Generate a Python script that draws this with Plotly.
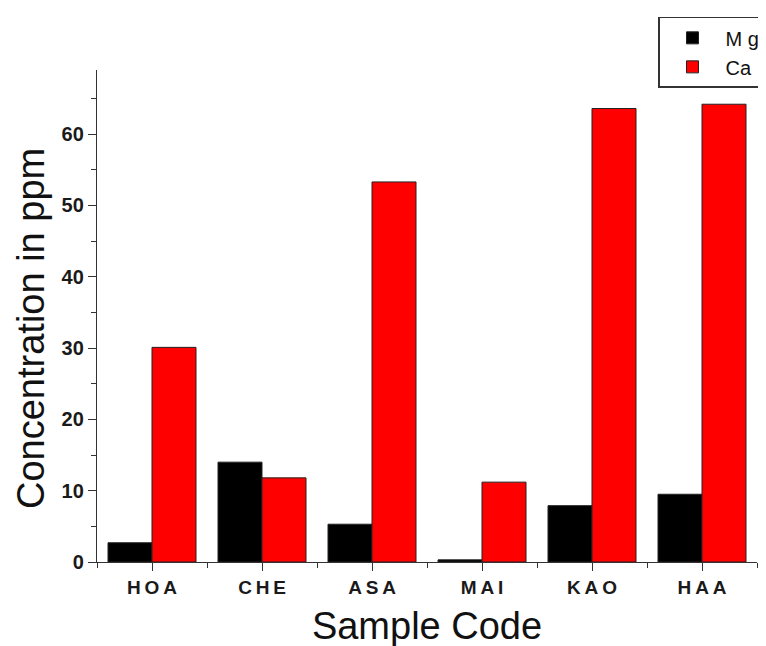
import plotly.graph_objects as go

categories = ["HOA", "CHE", "ASA", "MAI", "KAO", "HAA"]
mg_values = [2.7, 14.0, 5.3, 0.3, 7.9, 9.5]
ca_values = [30.1, 11.8, 53.3, 11.2, 63.6, 64.2]
y_tick_values = [0, 10, 20, 30, 40, 50, 60]

FONT = "Arial, 'Liberation Sans', sans-serif"
spaced = ["<b>" + "\u2009".join(list(c)) + "</b>" for c in categories]
y_tick_text = ["<b>%d</b>" % v for v in y_tick_values]

fig = go.Figure()
fig.add_trace(go.Bar(name="M g", x=categories, y=mg_values,
                     marker=dict(color="#000000", line=dict(color="#222222", width=1))))
fig.add_trace(go.Bar(name="Ca", x=categories, y=ca_values,
                     marker=dict(color="#ff0000", line=dict(color="#222222", width=1))))
# helper trace for boundary ticks on overlay axis
fig.add_trace(go.Scatter(x=categories, y=[None] * len(categories), xaxis="x2",
                         showlegend=False, hoverinfo="skip"))

fig.update_layout(
    width=766, height=646,
    margin=dict(l=89, r=17, t=62, b=92, autoexpand=False),
    paper_bgcolor="white", plot_bgcolor="white",
    barmode="group", bargap=0.2, bargroupgap=0,
    font=dict(family=FONT, color="#111111"),
    xaxis=dict(
        type="category", range=[-0.5, 5.5], automargin=False,
        tickmode="array", tickvals=categories, ticktext=spaced,
        tickfont=dict(size=19, family=FONT, color="#1a1a1a"),
        ticks="outside", ticklen=8, tickwidth=1.3, tickcolor="#333333",
        showline=True, linecolor="#333333", linewidth=1.3, showgrid=False,
        title=dict(text="Sample Code", font=dict(size=38, family=FONT, color="#111111"), standoff=15),
    ),
    xaxis2=dict(
        type="category", overlaying="x", matches="x", range=[-0.5, 5.5], automargin=False,
        tickson="boundaries", ticks="outside", ticklen=5, tickwidth=1.3, tickcolor="#333333",
        showticklabels=False, showgrid=False, showline=False, side="bottom",
    ),
    yaxis=dict(
        range=[0, 69], tickmode="array", tickvals=y_tick_values, ticktext=y_tick_text,
        tickfont=dict(size=20, color="#1a1a1a"), automargin=False,
        ticks="outside", ticklen=8, tickwidth=1.3, tickcolor="#333333",
        minor=dict(dtick=5, ticks="outside", ticklen=5, tickwidth=1.3, tickcolor="#333333"),
        showline=True, linecolor="#333333", linewidth=1.3, showgrid=False, zeroline=False,
    ),
    annotations=[dict(
        text="Concentration in ppm", textangle=-90, showarrow=False,
        xref="paper", yref="paper", x=-0.1, y=0.4736, xanchor="center", yanchor="middle",
        font=dict(size=38, family=FONT, color="#111111"),
    )],
    legend=dict(
        x=0.85, y=1.108, xanchor="left", yanchor="top",
        bgcolor="white", bordercolor="#333333", borderwidth=1.5,
        font=dict(size=20, family=FONT, color="#111111"),
        tracegroupgap=0, itemwidth=56,
    ),
    showlegend=True,
)
fig.write_html("out.html")
